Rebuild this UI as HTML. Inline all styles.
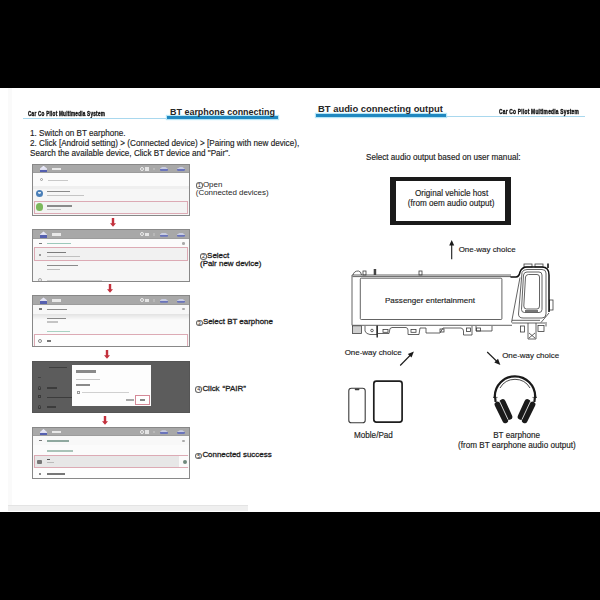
<!DOCTYPE html>
<html><head><meta charset="utf-8">
<style>
*{margin:0;padding:0;box-sizing:border-box}
html,body{width:600px;height:600px;overflow:hidden;background:#000}
body{position:relative;font-family:"Liberation Sans",sans-serif;color:#2b2b2b}
.a{position:absolute;white-space:nowrap;line-height:1}
.pg{position:absolute;left:0;top:88px;width:600px;height:424px;background:#fff}
.brand{position:absolute;font-weight:bold;font-size:7px;line-height:1;color:#111;transform-origin:0 0;white-space:nowrap;-webkit-text-stroke:0.4px #111;letter-spacing:0.35px}
.ttl{font-weight:bold;color:#262626}
.bar{position:absolute;background:#2088c0;box-shadow:0 0 1px 1px #b6e6f7}
.thin{position:absolute;height:1px;background:#a9d8ee}
.scr{position:absolute;left:32px;width:157.5px;background:#f6f6f6;border:1.5px solid #888;overflow:hidden;filter:blur(0.3px)}
.sb{position:absolute;left:0;top:0;right:0;height:8.5px;background:#a8a8a8;border-bottom:0.8px solid #9c9c9c}
.arr{position:absolute;width:6px;height:9px}.arr svg{display:block}
.lbl{position:absolute;white-space:nowrap;line-height:1;font-size:7.95px;color:#1e1e1e}
.body8{font-size:8.15px;color:#1c1c1c;-webkit-text-stroke:0.15px #1c1c1c}

.tx{position:absolute}
.hm{position:absolute;top:1.2px;width:7px;height:6.5px;background:linear-gradient(#eef 0,#dde 60%,#5560b0 60%,#5560b0 100%);clip-path:polygon(50% 0,100% 45%,100% 100%,0 100%,0 45%)}
.st{position:absolute;left:107px;top:0;width:50px;height:8.5px}
.pk{position:absolute;left:0.5px;right:0.5px;border:1px solid #dcaab4}

.cd{display:inline-block;width:6.8px;height:6.6px;border:0.6px solid #666;border-radius:50%;font-size:5.4px;line-height:5.5px;text-align:center;vertical-align:-0.4px;margin-right:0.3px;-webkit-text-stroke:0px;color:#222}
.lb2{-webkit-text-stroke:0.3px #1e1e1e}
</style></head>
<body>
<div class="pg"></div>
<div style="position:absolute;left:8px;top:88px;width:4px;height:417px;background:#fafafa"></div>
<!-- bottom gray strip -->
<div style="position:absolute;left:8px;top:505px;width:240px;height:6px;background:#efefef;border-top:1px solid #e4e4e4"></div>

<!-- LEFT PAGE HEADER -->
<div class="brand" style="left:28px;top:109.6px;transform:scaleX(0.665)">Car Co Pilot Multimedia System</div>
<div class="thin" style="left:23px;top:118px;width:144px"></div>
<div class="bar" style="left:167px;top:116px;width:111px;height:2.7px"></div>
<div class="a ttl" style="left:170px;top:107.5px;font-size:8.96px">BT earphone connecting</div>

<div class="a body8" style="left:30px;top:129.8px">1. Switch on BT earphone.</div>
<div class="a body8" style="left:30px;top:140.3px">2. Click [Android setting) &gt; (Connected device) &gt; [Pairing with new device),</div>
<div class="a body8" style="left:30px;top:150.2px">Search the available device, Click BT device and "Pair".</div>


<!-- SCREENSHOTS -->
<div class="scr" style="top:163.5px;height:52.6px">
  <div class="sb"></div>
  <div class="hm" style="left:7px"></div>
  <div class="tx" style="left:19px;top:3px;width:9px;height:2.5px;background:#e8e8e8"></div>
  <div class="st"><div class="tx" style="left:0px;top:2.2px;width:4px;height:4px;border:0.8px solid #eee;border-radius:50%"></div><div class="tx" style="left:5px;top:2.5px;width:3.5px;height:3.5px;background:#e4e4e4"></div><div class="tx" style="left:13px;top:3px;width:2px;height:2.5px;background:#b8b8b8"></div></div>
  <div class="tx" style="left:126.5px;top:2.5px;width:8.5px;height:4px;background:linear-gradient(#c8cce0 0,#c8cce0 50%,#6a74bb 50%,#6a74bb 100%);border-radius:1px;clip-path:polygon(30% 0,70% 0,100% 50%,100% 100%,0 100%,0 50%)"></div>
  <div class="tx" style="left:143.5px;top:2.5px;width:8.5px;height:4px;background:linear-gradient(#c8cce0 0,#c8cce0 50%,#6a74bb 50%,#6a74bb 100%);border-radius:1.5px;clip-path:polygon(40% 0,70% 0,100% 50%,100% 100%,0 100%,0 50%)"></div>
  <div style="position:absolute;left:0;top:8.5px;right:0;height:12.5px;background:#fbfbfb"></div>
  <div class="tx" style="left:7px;top:13.5px;width:3px;height:3px;border:0.8px solid #9a9a9a;border-radius:50%;background:none"></div>
  <div class="tx" style="left:15px;top:15px;width:20px;height:1.3px;background:#c9c9c9"></div>
  <div style="position:absolute;left:0;top:21px;right:0;height:3px;background:#efefef"></div>
  <div style="position:absolute;left:2.5px;top:25px;width:7.5px;height:7.5px;border-radius:50%;background:#4a7fb8"></div>
  <div style="position:absolute;left:4.5px;top:27.4px;width:3.4px;height:2.6px;background:#dfeaf4;border-radius:0 0 50% 50%"></div>
  <div class="tx" style="left:13.5px;top:26.4px;width:23px;height:1.5px;background:#8a8a8a"></div>
  <div class="tx" style="left:13.5px;top:30.1px;width:37px;height:1.2px;background:#c4c4c4"></div>
  <div class="pk" style="top:36.3px;height:13.4px;background:#f3f3f3"></div>
  <div style="position:absolute;left:2.5px;top:38.5px;width:7.5px;height:7.5px;border-radius:50%;background:#7cb85c"></div>
  <div class="tx" style="left:13.5px;top:40.7px;width:25px;height:1.6px;background:#8a8a8a"></div>
  <div class="tx" style="left:13.5px;top:44.3px;width:14px;height:1.2px;background:#c4c4c4"></div>
</div>
<div class="arr" style="left:109.7px;top:218px"><svg width="6" height="9" viewBox="0 0 6 9"><path d="M1.8 0h2.4v5.3h1.8l-3 3.5l-3-3.5h1.8z" fill="#c3313d"/></svg></div>

<div class="scr" style="top:229.3px;height:52.6px">
  <div class="sb"></div>
  <div class="hm" style="left:7px"></div>
  <div class="tx" style="left:19px;top:3px;width:9px;height:2.5px;background:#e8e8e8"></div>
  <div class="st"><div class="tx" style="left:0px;top:2.2px;width:4px;height:4px;border:0.8px solid #eee;border-radius:50%"></div><div class="tx" style="left:5px;top:2.5px;width:3.5px;height:3.5px;background:#e4e4e4"></div><div class="tx" style="left:13px;top:3px;width:2px;height:2.5px;background:#b8b8b8"></div></div>
  <div class="tx" style="left:126.5px;top:2.5px;width:8.5px;height:4px;background:linear-gradient(#c8cce0 0,#c8cce0 50%,#6a74bb 50%,#6a74bb 100%);border-radius:1px;clip-path:polygon(30% 0,70% 0,100% 50%,100% 100%,0 100%,0 50%)"></div>
  <div class="tx" style="left:143.5px;top:2.5px;width:8.5px;height:4px;background:linear-gradient(#c8cce0 0,#c8cce0 50%,#6a74bb 50%,#6a74bb 100%);border-radius:1.5px;clip-path:polygon(40% 0,70% 0,100% 50%,100% 100%,0 100%,0 50%)"></div>
  <div style="position:absolute;left:0;top:8.5px;right:0;height:9px;background:#fbfbfb"></div>
  <div class="tx" style="left:5.5px;top:12.3px;width:3px;height:1.2px;background:#777"></div>
  <div class="tx" style="left:13.5px;top:12.5px;width:24px;height:1.5px;background:#9dc9bb"></div>
  <div class="tx" style="left:149px;top:11.8px;width:2.5px;height:2.5px;background:#aaa;border-radius:50%"></div>
  <div class="pk" style="top:16.8px;height:14px;background:#f1f1f1"></div>
  <div class="tx" style="left:5.5px;top:23.5px;width:2.5px;height:2.5px;background:#9a9a9a"></div>
  <div class="tx" style="left:13.5px;top:21.5px;width:19px;height:1.6px;background:#7c7c7c"></div>
  <div class="tx" style="left:13.5px;top:25.5px;width:33px;height:1.2px;background:#c0c0c0"></div>
  <div class="tx" style="left:13.5px;top:34.6px;width:31px;height:1.5px;background:#8a8a8a"></div>
  <div class="tx" style="left:13.5px;top:38.6px;width:13px;height:1.2px;background:#bdbdbd"></div>
  <div class="tx" style="left:4.5px;top:47.5px;width:4.5px;height:4.5px;border:0.8px solid #aaa;border-radius:50%;background:none"></div>
  <div class="tx" style="left:13.5px;top:49.3px;width:55px;height:1.2px;background:#cfcfcf"></div>
</div>
<div class="arr" style="left:107px;top:284px"><svg width="6" height="9" viewBox="0 0 6 9"><path d="M1.8 0h2.4v5.3h1.8l-3 3.5l-3-3.5h1.8z" fill="#c3313d"/></svg></div>

<div class="scr" style="top:295.2px;height:52.2px">
  <div class="sb"></div>
  <div class="hm" style="left:7px"></div>
  <div class="tx" style="left:19px;top:3px;width:9px;height:2.5px;background:#e8e8e8"></div>
  <div class="st"><div class="tx" style="left:0px;top:2.2px;width:4px;height:4px;border:0.8px solid #eee;border-radius:50%"></div><div class="tx" style="left:5px;top:2.5px;width:3.5px;height:3.5px;background:#e4e4e4"></div><div class="tx" style="left:13px;top:3px;width:2px;height:2.5px;background:#b8b8b8"></div></div>
  <div class="tx" style="left:126.5px;top:2.5px;width:8.5px;height:4px;background:linear-gradient(#c8cce0 0,#c8cce0 50%,#6a74bb 50%,#6a74bb 100%);border-radius:1px;clip-path:polygon(30% 0,70% 0,100% 50%,100% 100%,0 100%,0 50%)"></div>
  <div class="tx" style="left:143.5px;top:2.5px;width:8.5px;height:4px;background:linear-gradient(#c8cce0 0,#c8cce0 50%,#6a74bb 50%,#6a74bb 100%);border-radius:1.5px;clip-path:polygon(40% 0,70% 0,100% 50%,100% 100%,0 100%,0 50%)"></div>
  <div style="position:absolute;left:0;top:8.5px;right:0;height:9px;background:#f7f7f7"></div>
  <div style="position:absolute;left:0;top:17.5px;right:0;height:6px;background:linear-gradient(#e2e2e2,#fafafa)"></div>
  <div class="tx" style="left:5.5px;top:12.3px;width:3px;height:1.2px;background:#777"></div>
  <div class="tx" style="left:13.5px;top:12.5px;width:20px;height:1.5px;background:#8a8a8a"></div>
  <div class="tx" style="left:149px;top:11.8px;width:2.5px;height:2.5px;background:#aaa;border-radius:50%"></div>
  <div style="position:absolute;left:0;top:23.5px;right:0;height:14px;background:#fafafa"></div>
  <div class="tx" style="left:13.5px;top:21.6px;width:19px;height:1.5px;background:#8a8a8a"></div>
  <div class="tx" style="left:13.5px;top:25.3px;width:11px;height:1.2px;background:#c4c4c4"></div>
  <div class="tx" style="left:13.5px;top:34.6px;width:23px;height:1.1px;background:#a9d2c2"></div>
  <div class="pk" style="top:37.8px;height:14.4px;background:#fdfdfd"></div>
  <div class="tx" style="left:4.5px;top:42.5px;width:4px;height:4px;border:0.8px solid #888;border-radius:50%;background:none"></div>
  <div class="tx" style="left:13.5px;top:44.2px;width:4px;height:1.5px;background:#777"></div>
</div>
<div class="arr" style="left:104.3px;top:350px"><svg width="6" height="9" viewBox="0 0 6 9"><path d="M1.8 0h2.4v5.3h1.8l-3 3.5l-3-3.5h1.8z" fill="#c3313d"/></svg></div>

<div class="scr" style="top:361px;height:52.4px;background:#5c5c5c;border-color:#555">
  <div class="tx" style="left:16px;top:4.5px;width:18px;height:1.3px;background:#3f3f3f"></div>
  <div class="tx" style="left:4.5px;top:15px;width:3px;height:1.2px;background:#444"></div>
  <div class="tx" style="left:4.5px;top:23.5px;width:3px;height:4px;border:0.8px solid #3a3a3a;border-radius:2px 2px 0 0;background:none"></div>
  <div class="tx" style="left:13.5px;top:25px;width:10px;height:1.5px;background:#3c3c3c"></div>
  <div class="tx" style="left:4.5px;top:33px;width:3.5px;height:3px;border:0.8px solid #3a3a3a;background:none"></div>
  <div class="tx" style="left:13.5px;top:34.5px;width:25px;height:1.5px;background:#3c3c3c"></div>
  <div class="tx" style="left:4.5px;top:42.5px;width:3px;height:4px;border:0.8px solid #3a3a3a;border-radius:2px 2px 0 0;background:none"></div>
  <div class="tx" style="left:13.5px;top:44px;width:9px;height:1.5px;background:#3c3c3c"></div>
  <div style="position:absolute;left:38.5px;top:3.2px;width:79.5px;height:40.6px;background:#fdfdfd">
    <div class="tx" style="left:4.5px;top:5px;width:20px;height:2.4px;background:#8a8a8a"></div>
    <div class="tx" style="left:4.5px;top:14px;width:24px;height:1.1px;background:#c8c8c8"></div>
    <div class="tx" style="left:4.5px;top:19px;width:14px;height:2px;background:#8a8a8a"></div>
    <div class="tx" style="left:5.5px;top:26px;width:3px;height:3px;border:0.7px solid #999;background:none"></div>
    <div class="tx" style="left:10.5px;top:27px;width:47px;height:1.1px;background:#d0d0d0"></div>
    <div class="tx" style="left:54px;top:34.2px;width:8px;height:1.2px;background:#a8a8a8"></div>
    <div style="position:absolute;left:63.8px;top:29.8px;width:14.5px;height:10px;border:0.9px solid #d58a98;background:#fff"></div>
    <div class="tx" style="left:68.5px;top:34.3px;width:5px;height:1.2px;background:#888"></div>
  </div>
</div>
<div class="arr" style="left:101.8px;top:415.7px"><svg width="6" height="9" viewBox="0 0 6 9"><path d="M1.8 0h2.4v5.3h1.8l-3 3.5l-3-3.5h1.8z" fill="#c3313d"/></svg></div>

<div class="scr" style="top:426.8px;height:52.6px">
  <div class="sb"></div>
  <div class="hm" style="left:7px"></div>
  <div class="tx" style="left:19px;top:3px;width:9px;height:2.5px;background:#e8e8e8"></div>
  <div class="st"><div class="tx" style="left:0px;top:2.2px;width:4px;height:4px;border:0.8px solid #eee;border-radius:50%"></div><div class="tx" style="left:5px;top:2.5px;width:3.5px;height:3.5px;background:#e4e4e4"></div><div class="tx" style="left:13px;top:3px;width:2px;height:2.5px;background:#b8b8b8"></div></div>
  <div class="tx" style="left:126.5px;top:2.5px;width:8.5px;height:4px;background:linear-gradient(#c8cce0 0,#c8cce0 50%,#6a74bb 50%,#6a74bb 100%);border-radius:1px;clip-path:polygon(30% 0,70% 0,100% 50%,100% 100%,0 100%,0 50%)"></div>
  <div class="tx" style="left:143.5px;top:2.5px;width:8.5px;height:4px;background:linear-gradient(#c8cce0 0,#c8cce0 50%,#6a74bb 50%,#6a74bb 100%);border-radius:1.5px;clip-path:polygon(40% 0,70% 0,100% 50%,100% 100%,0 100%,0 50%)"></div>
  <div style="position:absolute;left:0;top:8.5px;right:0;height:9px;background:#f8f8f8"></div>
  <div class="tx" style="left:5.5px;top:12.3px;width:3px;height:1.2px;background:#777"></div>
  <div class="tx" style="left:13.5px;top:12.5px;width:22px;height:1.5px;background:#8fa89f"></div>
  <div class="tx" style="left:149px;top:11.8px;width:2.5px;height:2.5px;background:#aaa;border-radius:50%"></div>
  <div style="position:absolute;left:0;top:17.5px;right:0;height:10px;background:#fbfbfb"></div>
  <div class="tx" style="left:13.5px;top:22.5px;width:26px;height:1.3px;background:#a9c3b8"></div>
  <div class="pk" style="top:27.5px;height:13px;background:#e7e7e7"></div>
  <div style="position:absolute;left:146px;top:28.5px;width:9.5px;height:11px;background:#fafafa"></div>
  <div class="tx" style="left:149.5px;top:32px;width:4px;height:4px;background:#6f8a7c;border-radius:50%"></div>
  <div class="tx" style="left:3.5px;top:32.5px;width:5px;height:3.5px;background:#777;border-radius:1px"></div>
  <div class="tx" style="left:13.5px;top:30.8px;width:3.5px;height:1.6px;background:#555"></div>
  <div class="tx" style="left:13.5px;top:34.5px;width:7px;height:1.1px;background:#bbb"></div>
  <div style="position:absolute;left:0;top:40.5px;right:0;height:12px;background:#fdfdfd"></div>
  <div class="tx" style="left:5.5px;top:45px;width:2.5px;height:2.5px;background:#8a8a8a"></div>
  <div class="tx" style="left:13.5px;top:45.5px;width:18px;height:1.5px;background:#777"></div>
</div>


<!-- LABELS -->
<div class="lbl" style="left:195.8px;top:180.9px"><span class="cd">1</span>Open</div>
<div class="lbl" style="left:195.8px;top:189.2px">(Connected devices)</div>
<div class="lbl lb2" style="left:200px;top:251.7px"><span class="cd">2</span>Select</div>
<div class="lbl lb2" style="left:200px;top:260.1px">(Pair new device)</div>
<div class="lbl lb2" style="left:195.8px;top:318.4px"><span class="cd">3</span>Select BT earphone</div>
<div class="lbl lb2" style="left:195.3px;top:384.7px"><span class="cd">4</span>Click<span style="margin-left:3px">“PAIR”</span></div>
<div class="lbl lb2" style="left:195.3px;top:451.4px"><span class="cd">5</span>Connected success</div>

<!-- RIGHT PAGE HEADER -->
<div class="bar" style="left:316px;top:114px;width:130px;height:2.5px"></div>
<div class="a ttl" style="left:318px;top:103.8px;font-size:9.42px">BT audio connecting output</div>
<div class="thin" style="left:446px;top:115.5px;width:139px"></div>
<div class="brand" style="left:499px;top:107.6px;transform:scaleX(0.69)">Car Co Pilot Multimedia System</div>

<div class="a body8" style="left:366px;top:153.8px">Select audio output based on user manual:</div>
<div style="position:absolute;left:390px;top:177px;width:121px;height:48px;border:solid #1a1a1a;border-width:4px 6px"></div>
<div class="a body8" style="left:415px;top:189.7px">Original vehicle host</div>
<div class="a body8" style="left:407.8px;top:199.7px">(from oem audio output)</div>


<!-- RIGHT PAGE DRAWINGS -->
<svg style="position:absolute;left:0;top:0" width="600" height="600" viewBox="0 0 600 600">
  <!-- up arrow -->
  <g stroke="#1a1a1a" fill="#1a1a1a">
    <line x1="451.7" y1="259.2" x2="451.7" y2="243" stroke-width="1.1"/>
    <path d="M449.2 245.5 L451.7 240 L454.2 245.5 Z" stroke="none"/>
    <line x1="400.2" y1="365.5" x2="411.5" y2="354" stroke-width="1.1"/>
    <path d="M413.9 351.5 L407.8 353.9 L411.5 357.6 Z" stroke="none"/>
    <line x1="487.2" y1="352" x2="498" y2="362.5" stroke-width="1.1"/>
    <path d="M500.4 364.9 L498 358.8 L494.3 362.5 Z" stroke="none"/>
  </g>
  <!-- phone -->
  <rect x="348.8" y="388.2" width="16.4" height="34.6" rx="2.6" fill="none" stroke="#3a3a3a" stroke-width="1.1"/>
  <rect x="354.8" y="388.6" width="4.6" height="1.6" rx="0.6" fill="#3a3a3a"/>
  <!-- tablet -->
  <rect x="373.8" y="381.1" width="28.3" height="41" rx="2.6" fill="none" stroke="#1e1e1e" stroke-width="1.7"/>
  <!-- headphones -->
  <g fill="none" stroke="#1a1a1a">
    <path d="M494.8 398 L494.8 396.5 A20.2 20.2 0 0 1 535.2 396.5 L535.2 398" stroke-width="2.3"/>
    <path d="M500 388 A17.3 17.3 0 0 1 530 388" stroke-width="0.8"/>
    <line x1="493" y1="397.4" x2="497.5" y2="397.4" stroke-width="0.7"/>
    <line x1="532.5" y1="397.4" x2="537" y2="397.4" stroke-width="0.7"/>
    <line x1="495.2" y1="398" x2="495.6" y2="402" stroke-width="2.2"/>
    <line x1="534.8" y1="398" x2="534.4" y2="402" stroke-width="2.2"/>
    <line x1="497.4" y1="404.4" x2="505.3" y2="420.4" stroke-width="5.6" stroke-linecap="round"/>
    <line x1="502.6" y1="402.2" x2="509.2" y2="416.8" stroke-width="6.2" stroke-linecap="round"/>
    <line x1="532.6" y1="404.4" x2="524.7" y2="420.4" stroke-width="5.6" stroke-linecap="round"/>
    <line x1="527.4" y1="402.2" x2="520.8" y2="416.8" stroke-width="6.2" stroke-linecap="round"/>
  </g>
  <g fill="none" stroke="#fff" stroke-width="0.8">
    <line x1="499.5" y1="401.2" x2="508" y2="419.5"/>
    <line x1="530.5" y1="401.2" x2="522" y2="419.5"/>
  </g>
  <!-- car display -->
  <g fill="none" stroke="#3c3c3c" stroke-width="0.8">
    <rect x="360.3" y="278.2" width="141.6" height="41.3" rx="1"/>
    <path d="M352 325.3 L352 275 L511 275"/>
    <path d="M352.5 276.6 L511 276.6"/>
    <path d="M352 325.3 L512 325.3"/>
    <path d="M353 275 Q354 270.8 358.5 271 Q361 271.3 361.5 275"/>
    <rect x="363" y="271" width="3" height="4"/>
    <rect x="419" y="271" width="3" height="4"/>
    <path d="M511.5 322.5 L520 277.5"/>
    <path d="M512 320.3 L540 320.3 M512 323 L545 323"/>
    <path d="M518.5 314 L522 272.5 Q523 269.5 527 269.5 L542 269.5 Q546 269.5 546 273 L546 314 Q546 318 542 318 L523 318 Q518.5 318 518.5 314 Z"/>
    <path d="M521.5 309.5 L523.5 275 Q524 272 527 272 L539 272 Q542 272 542 275 L542 309.5 Q542 312.5 539 312.5 L524.5 312.5 Q521.5 312.5 521.5 309.5 Z"/>
    <path d="M523.8 306 L525.5 277 Q526 274.5 528.5 274.5 L537 274.5 Q539.5 274.5 539.5 277 L539.5 306 Q539.5 309 537 309 L526.5 309 Q523.8 309 523.8 306 Z"/>
    <path d="M525 311 L538 311" stroke-width="1.4"/>
    <path d="M549 313 L541 322.5"/>
    <rect x="549.5" y="300" width="3.5" height="10"/>
    <rect x="524" y="264" width="8" height="3"/>
    <rect x="535" y="264" width="8" height="3"/>
    <!-- bottom profile -->
    <rect x="352.5" y="326" width="9" height="7.5"/>
    <path d="M353 328 L361 328 M353 330 L361 330 M353 332 L361 332" stroke-width="0.5"/>
    <path d="M365 326 L365 331 Q366 334 370 334.5 L377 334.5 L377 326"/>
    <circle cx="372" cy="330.5" r="1.3"/>
    <path d="M377.2 325.5 L377.2 337.5" stroke-width="1.4" stroke="#222"/>
    <path d="M377 333.5 L389 333.5 L390 328.5 L392 327.5 L406 327.5 Q408 328 408 330 L408 334.5 L419 334.5 L420 328 L426 328 L426 333 L440 333 L443 328 L461 328 Q463.5 328.5 463.5 331 L463.5 335 L472 335 L472 326 M476 326 L476 331 L492 331 L492 326"/>
    <rect x="383" y="329.5" width="5" height="2.8"/>
    <rect x="411" y="329.5" width="5" height="2.8"/>
    <rect x="440" y="329" width="4" height="3"/>
    <rect x="466.5" y="328" width="4" height="3.5"/>
    <rect x="476.5" y="328" width="4" height="3"/>
    <rect x="520.5" y="326" width="4" height="6"/>
    <path d="M528 323 L528 339 L536 339 L536 323 M529 333 L535 338 M529 338 L535 333"/>
    <rect x="538" y="325.5" width="6" height="6"/>
    <path d="M546 326.5 L546 322"/>
  </g>
  <path d="M510.5 277 L516 277 Q519 277 520 272 Q522 267 527 267 L542 267 Q549 267 549 275 L549 312" fill="none" stroke="#111" stroke-width="1.5"/>
  <rect x="373.7" y="269" width="2.5" height="6" fill="#444"/>
  <rect x="547" y="263.5" width="2" height="4.5" fill="#444"/>
</svg>
<div class="a body8" style="left:458.7px;top:245.5px;font-size:7.95px">One-way choice</div>
<div class="a body8" style="left:385px;top:296.9px;font-size:8.05px">Passenger entertainment</div>
<div class="a body8" style="left:344.7px;top:348.8px;font-size:7.95px">One-way choice</div>
<div class="a body8" style="left:502.2px;top:351.6px;font-size:7.95px">One-way choice</div>
<div class="a body8" style="left:354px;top:432.2px">Moble/Pad</div>
<div class="a body8" style="left:493.2px;top:432.3px">BT earphone</div>
<div class="a body8" style="left:458px;top:442.2px">(from BT earphone audio output)</div>

</body></html>
